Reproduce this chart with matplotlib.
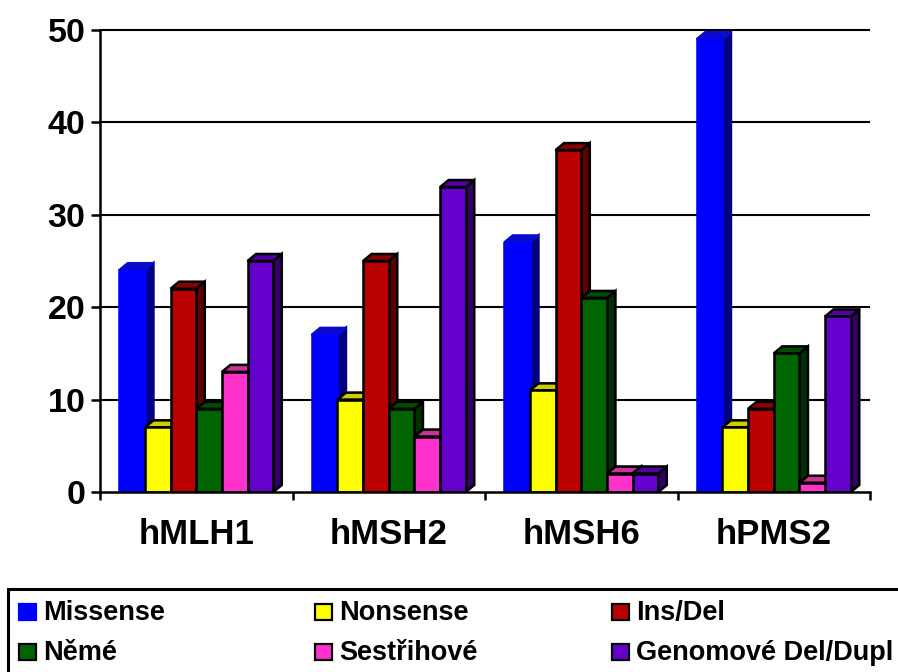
import matplotlib
matplotlib.use("Agg")
import matplotlib.pyplot as plt
from matplotlib.patches import Polygon, Rectangle

# ---- data ----
genes = ["hMLH1", "hMSH2", "hMSH6", "hPMS2"]
series = ["Missense", "Nonsense", "Ins/Del", "Němé", "Sestřihové", "Genomové Del/Dupl"]
missense = [24, 17, 27, 49]
nonsense = [7, 10, 11, 7]
ins_del = [22, 25, 37, 9]
neme = [9, 9, 21, 15]
sestrihove = [13, 6, 2, 1]
genomove = [25, 33, 2, 19]
values = [missense, nonsense, ins_del, neme, sestrihove, genomove]
y_ticks = [0, 10, 20, 30, 40, 50]

# front / top / side face colours per series
front = ["#0000FF", "#FFFF00", "#BA0000", "#006400", "#FF33CC", "#6600CC"]
top = ["#0A0ACC", "#CCCC00", "#8A0000", "#004C00", "#CC3399", "#5200A6"]
side = ["#000080", "#808000", "#5E0000", "#003000", "#992277", "#33006A"]
edge = ["#0000FF", "black", "black", "black", "black", "black"]

W, H = 898, 672
plt.rcParams["font.family"] = ["Liberation Sans", "DejaVu Sans"]
plt.rcParams["font.weight"] = "bold"

fig = plt.figure(figsize=(W / 100, H / 100), dpi=100)
ax_l, ax_r, ax_t, ax_b = 100, 870, 30, 492
ax = fig.add_axes([ax_l / W, 1 - ax_b / H, (ax_r - ax_l) / W, (ax_b - ax_t) / H])
ax.set_xlim(0, len(genes))
ax.set_ylim(0, 50)

# pseudo-3D depth, in data units
px_x = (ax_r - ax_l) / len(genes)
px_y = (ax_b - ax_t) / 50
dx = 8.5 / px_x
dy = 7.0 / px_y

group_w = 0.8
bw = group_w / len(series)
lw_bar = 1.85
lw_grid = 1.5
lw_axis = 1.8

# gridlines
ax.hlines(y_ticks[1:], 0, len(genes), colors="black", linewidth=lw_grid, zorder=1, clip_on=False)

z = 2
for g in range(len(genes)):
    x_start = g + (1 - group_w) / 2
    for s in range(len(series)):
        h = values[s][g]
        x0 = x_start + s * bw
        x1 = x0 + bw
        ax.bar(x0, h, width=bw, align="edge", color=front[s], edgecolor=edge[s],
               linewidth=lw_bar, zorder=z)
        ax.add_patch(Polygon([(x1, 0), (x1 + dx, dy), (x1 + dx, h + dy), (x1, h)],
                             closed=True, facecolor=side[s], edgecolor=edge[s] if s else side[s],
                             linewidth=lw_bar, zorder=z - 0.5))
        ax.add_patch(Polygon([(x0, h), (x0 + dx, h + dy), (x1 + dx, h + dy), (x1, h)],
                             closed=True, facecolor=top[s], edgecolor=edge[s] if s else top[s],
                             linewidth=lw_bar, zorder=z - 0.5))
        z += 1

for sp in ["top", "right"]:
    ax.spines[sp].set_visible(False)
for sp in ["left", "bottom"]:
    ax.spines[sp].set_linewidth(lw_axis)
    ax.spines[sp].set_zorder(100)

ax.set_yticks(y_ticks)
ax.set_yticklabels([str(t) for t in y_ticks], fontsize=24.5, fontweight="bold")
ax.tick_params(axis="y", direction="out", length=6.5, width=lw_axis, pad=4)

ax.set_xticks(range(len(genes) + 1))
ax.set_xticklabels([])
ax.set_xticks([i + 0.5 for i in range(len(genes))], minor=True)
ax.set_xticklabels(genes, minor=True, fontsize=25, fontweight="bold")
ax.tick_params(axis="x", which="major", direction="out", length=6, width=lw_axis)
ax.tick_params(axis="x", which="minor", length=0, pad=19)

# legend box drawn in pixel positions
def fx(px):
    return px / W

def fy(py):
    return 1 - py / H

fig.add_artist(Rectangle((fx(8), fy(H + 20)), fx(W + 20) - fx(8), fy(589) - fy(H + 20),
                         transform=fig.transFigure, facecolor="white", edgecolor="black",
                         linewidth=2.2))
col_x = [19, 315, 612]
row_y = [612, 652]
for i, name in enumerate(series):
    r, c = divmod(i, 3)
    mx, my = col_x[c], row_y[r]
    fig.add_artist(Rectangle((fx(mx), fy(my + 8)), 17 / W, 16 / H, transform=fig.transFigure,
                             facecolor=front[i], edgecolor=edge[i], linewidth=1.6))
    fig.text(fx(mx + 24), fy(my + 8), name, fontsize=19.5, fontweight="bold",
             ha="left", va="baseline")

fig.savefig("out.png", dpi=100)
